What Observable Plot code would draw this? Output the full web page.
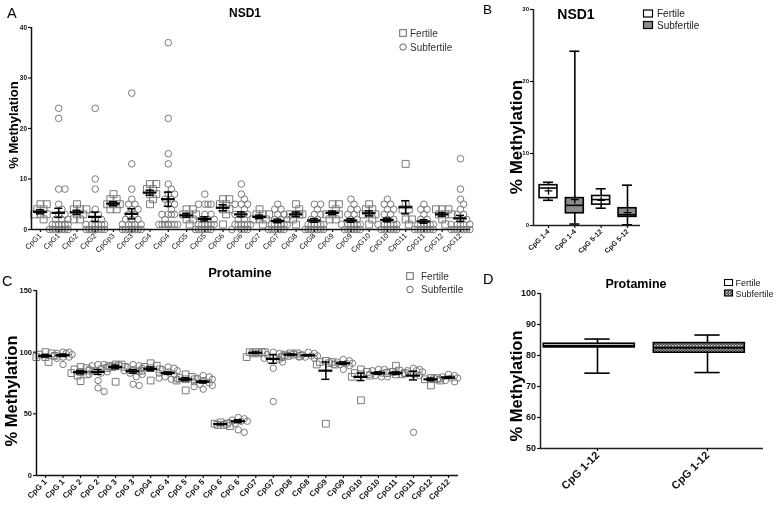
<!DOCTYPE html>
<html><head><meta charset="utf-8">
<script src="https://cdn.jsdelivr.net/npm/d3@7"></script>
<script src="https://cdn.jsdelivr.net/npm/@observablehq/plot@0.6"></script>
<style>
body{margin:0;background:#fff;}
#root{position:relative;width:778px;height:509px;overflow:hidden;background:#fff;}
#root svg{will-change:transform;-webkit-font-smoothing:antialiased;}
</style></head><body><div id="root"></div>
<script>
// ---------------- DATA ----------------
// Panel A: NSD1, individual CpG sites (Fertile / Subfertile alternate)
const aLabels = ["CpG1","CpG1","CpG2","CpG2","CpGp3","CpG3","CpG4","CpG4","CpG5","CpG5","CpG6","CpG6","CpG7","CpG7","CpG8","CpG8","CpG9","CpG9","CpG10","CpG10","CpG11","CpG11","CpG12","CpG12"];
const aGroup = ["Fertile","Subfertile","Fertile","Subfertile","Fertile","Subfertile","Fertile","Subfertile","Fertile","Subfertile","Fertile","Subfertile","Fertile","Subfertile","Fertile","Subfertile","Fertile","Subfertile","Fertile","Subfertile","Fertile","Subfertile","Fertile","Subfertile"];
const aPoints = [
 [5,5,4,4,3,3,3,2],
 [24,22,8,8,5,4,3,3,2,2,2,1,1,1,1,1,1,0,0,0,0,0,0,0,0,0,0],
 [5,4,4,4,3,3,2,2],
 [24,10,8,4,3,3,2,2,1,1,1,1,1,1,0,0,0,0,0,0,0,0,0,0],
 [7,6,6,5,5,5,4,4],
 [27,13,8,6,5,5,4,4,3,3,2,2,2,1,1,1,1,1,0,0,0,0,0,0,0,0,0],
 [9,9,8,8,7,7,6,5],
 [37,22,15,13,9,8,7,7,6,6,5,5,4,3,3,3,3,2,1,1,1,1,1,1,1,1,1],
 [4,4,3,3,3,2,2,1],
 [7,5,5,5,5,3,3,2,2,2,1,1,1,1,1,1,0,0,0,0,0,0],
 [6,6,5,5,4,4,3,1],
 [9,7,6,5,5,5,4,3,3,3,2,2,1,1,1,1,1,1,0,0,0,0],
 [4,3,3,3,2,2,2,1],
 [5,4,4,3,3,2,2,2,1,1,1,1,1,1,0,0,0,0,0,0],
 [5,4,3,3,3,3,2,1],
 [5,5,4,3,3,2,2,1,1,1,1,1,1,0,0,0,0,0,0,0],
 [5,5,4,3,3,3,2,2],
 [6,5,4,4,3,3,2,2,1,1,1,1,1,1,0,0,0,0,0,0],
 [5,4,4,3,3,3,2,1],
 [6,5,5,4,4,3,3,2,2,1,1,1,1,1,1,0,0,0,0,0,0],
 [13,5,4,4,2,2,1],
 [5,4,4,3,2,2,1,1,1,1,1,1,0,0,0,0,0,0,0],
 [4,4,4,3,3,3,2,1],
 [14,8,6,5,4,3,3,2,2,1,1,1,1,1,0,0,0,0,0,0,0]
];
const aMean = [3.5,3.3,3.4,2.5,5.1,3.1,7.3,6.0,2.8,2.1,4.3,3.0,2.5,1.7,3.0,1.8,3.3,1.8,3.2,1.9,4.4,1.6,3.0,2.2];
const aSem  = [0.4,0.9,0.4,0.9,0.4,1.0,0.5,1.4,0.35,0.4,0.6,0.5,0.35,0.35,0.45,0.35,0.35,0.35,0.5,0.35,1.3,0.35,0.35,0.6];
const aTicksY = [0,10,20,30,40];

// Panel B: NSD1 box plots
const bLabels = ["CpG 1-4","CpG 1-4","CpG 5-12","CpG 5-12"];
const bGroup = ["Fertile","Subfertile","Fertile","Subfertile"];
const bMin = [3.5,0.2,2.4,0.1];
const bQ1 = [3.8,1.7,2.9,1.2];
const bMedian = [5.2,2.8,3.6,1.5];
const bQ3 = [5.6,3.8,4.1,2.4];
const bMax = [6.0,24.2,5.1,5.6];
const bMean = [4.8,3.6,3.5,1.8];
const bTicksY = [0,10,20,30];

// Panel C: Protamine, individual CpG sites
const cLabels = ["CpG 1","CpG 1","CpG 2","CpG 2","CpG 3","CpG 3","CpG4","CpG 4","CpG 5","CpG 5","CpG 6","CpG 6","CpG7","CpG7","CpG8","CpG8","CpG9","CpG9","CpG10","CpG10","CpG11","CpG11","CpG12","CpG12"];
const cGroup = aGroup;
const cPoints = [
 [100,99,98,97,96,96,92],
 [100,100,99,99,98,97,96,96,95,90],
 [88,87,86,85,84,83,82,81,76.5],
 [90,90,89,88,87,86,85,84,83,82,77,71,68],
 [90,90,89,89,88,88,87,76],
 [90,89,88,87,86,85,84,83,82,80,74,73],
 [91,89,88,87,86,85,77],
 [88,87,86,85,84,83,82,80,79,78,78],
 [82,80,79,78,78,77,69],
 [81,80,79,78,77,76,75,74,73,72,70],
 [43,42,42,41,41,40],
 [47,46,45,44,44,43,42,37,35],
 [100,100,100,100,99,99,96],
 [100,99,98,97,96,95,94,93,92,87,60],
 [99,99,98,98,97,97,96],
 [100,99,98,97,97,96,96,95],
 [93,92,92,91,90,90,42],
 [94,93,92,91,91,90,90,89,86],
 [86,84,83,82,81,80,61],
 [86,86,85,84,83,82,81,80,80],
 [89,85,84,83,83,82,82],
 [87,86,85,85,84,83,82,81,35],
 [79,79,78,78,77,73],
 [82,81,80,79,79,78,77,76]
];
const cMean = [97,97.5,83.8,84,88,84.5,86.5,83,78,76,41.7,44,99.5,94.5,98,97.5,85,91,80,83,83,81,78,79.5];
const cSem  = [1.0,1.0,1.4,2.0,1.5,1.5,1.5,1.0,1.3,1.0,0.5,1.2,0.6,3.5,0.5,0.5,7,1.0,3,1.0,1.0,3.5,1.0,0.8];
const cTicksY = [0,50,100,150];

// Panel D: Protamine box plots
const dLabels = ["CpG 1-12","CpG 1-12"];
const dGroup = ["Fertile","Subfertile"];
const dMin = [74.3,74.5];
const dQ1 = [82.6,80.9];
const dMedian = [83.1,82.5];
const dQ3 = [83.8,84.0];
const dMax = [85.3,86.6];
const dTicksY = [50,60,70,80,90,100];

const legendLabels = ["Fertile","Subfertile"];
const yTitle = "% Methylation";

// ---------------- RENDER ----------------
const FONT = '"Liberation Sans", Arial, Helvetica, sans-serif';
const root = document.getElementById("root");
const NS = "http://www.w3.org/2000/svg";

function place(svg, left, top){
  svg.style.position = "absolute"; svg.style.left = left + "px"; svg.style.top = top + "px";
  root.appendChild(svg); return svg;
}

// deterministic column-scatter spreading (GraphPad-like)
function swarmOffsets(vals, pxY, pxX, r){
  const order = d3.range(vals.length).sort((a,b)=>d3.descending(vals[a],vals[b]));
  const placed = [], out = new Array(vals.length);
  const step = r*0.95, cands = [0];
  for (let k=1;k<=3;k++) cands.push(k*step, -k*step);
  for (const i of order){
    const y = vals[i]*pxY;
    let best = 0, bestD = -1;
    for (const c of cands){
      let dmin = Infinity;
      for (const p of placed) dmin = Math.min(dmin, Math.hypot(p.x-c, p.y-y));
      if (dmin >= 1.6*r){ best = c; break; }
      if (dmin > bestD){ bestD = dmin; best = c; }
    }
    placed.push({x:best, y});
    out[i] = best/pxX;
  }
  return out;
}

function dotPanel(cfg, labels, group, points, mean, sem, o){
  const pxY = (cfg.height-cfg.mt-cfg.mb)/(cfg.yd[1]-cfg.yd[0]);
  const pxX = (cfg.width-cfg.ml-cfg.mr)/(cfg.xd[1]-cfg.xd[0]);
  const rows = [];
  points.forEach((vals,i)=>{
    const offs = swarmOffsets(vals, pxY, pxX, o.r);
    vals.forEach((v,j)=>rows.push({i, v, xo:i+offs[j], g:group[i]}));
  });
  const stats = labels.map((l,i)=>({i, m:mean[i], lo:mean[i]-sem[i], hi:mean[i]+sem[i]}));
  const idx = d3.range(labels.length);
  return Plot.plot({
    width:cfg.width, height:cfg.height, marginLeft:cfg.ml, marginRight:cfg.mr, marginTop:cfg.mt, marginBottom:cfg.mb,
    style:{fontFamily:FONT, background:"transparent", overflow:"visible", color:"#111"},
    x:{type:"linear", domain:cfg.xd, label:null},
    y:{domain:cfg.yd, label:null},
    marks:[
      Plot.dot(rows.filter(d=>d.g==="Fertile"), {x:"xo", y:"v", symbol:"square", r:o.rs, stroke:"#7a7a7a", strokeWidth:1, fill:"none"}),
      Plot.dot(rows.filter(d=>d.g==="Subfertile"), {x:"xo", y:"v", symbol:"circle", r:o.r, stroke:"#7a7a7a", strokeWidth:1, fill:"none"}),
      Plot.ruleX(stats, {x:"i", y1:"lo", y2:"hi", stroke:"#000", strokeWidth:1.5}),
      Plot.ruleY(stats, {y:"hi", x1:d=>d.i-o.cw, x2:d=>d.i+o.cw, stroke:"#000", strokeWidth:1.5}),
      Plot.ruleY(stats, {y:"lo", x1:d=>d.i-o.cw, x2:d=>d.i+o.cw, stroke:"#000", strokeWidth:1.5}),
      Plot.ruleY(stats, {y:"m", x1:d=>d.i-o.mw, x2:d=>d.i+o.mw, stroke:"#000", strokeWidth:2.2}),
      Plot.ruleY([cfg.yd[0]], {stroke:"#111", strokeWidth:1.5}),
      Plot.ruleX([cfg.xd[0]], {stroke:"#111", strokeWidth:1.5}),
      Plot.axisY({ticks:o.yticks, tickSize:3, tickPadding:1.5, fontSize:o.yfs, fontWeight:"bold", fill:"#111", strokeWidth:1.2}),
      Plot.axisX({ticks:idx, tickFormat:i=>labels[i], tickRotate:-45, tickSize:3, tickPadding:2, fontSize:o.xfs, fontWeight:o.xfw, fill:"#111", strokeWidth:1.2})
    ]
  });
}

function boxPanel(cfg, labels, group, mn, q1, med, q3, mx, mean, o){
  const rows = labels.map((l,i)=>({i, g:group[i], mn:mn[i], q1:q1[i], med:med[i], q3:q3[i], mx:mx[i], mean: mean ? mean[i] : null}));
  const idx = d3.range(labels.length);
  const marks = [
    Plot.ruleX(rows, {x:"i", y1:"mn", y2:"mx", stroke:"#000", strokeWidth:1.6}),
    Plot.ruleY(rows, {y:"mn", x1:d=>d.i-o.cw, x2:d=>d.i+o.cw, stroke:"#000", strokeWidth:1.6}),
    Plot.ruleY(rows, {y:"mx", x1:d=>d.i-o.cw, x2:d=>d.i+o.cw, stroke:"#000", strokeWidth:1.6}),
    Plot.rect(rows.filter(d=>d.g==="Fertile"), {x1:d=>d.i-o.bl, x2:d=>d.i+o.br, y1:"q1", y2:"q3", fill:o.fillF, stroke:"#000", strokeWidth:1.6}),
    Plot.rect(rows.filter(d=>d.g==="Subfertile"), {x1:d=>d.i-o.bl, x2:d=>d.i+o.br, y1:"q1", y2:"q3", fill:o.fillS, stroke:"#000", strokeWidth:1.6}),
    Plot.ruleY(rows, {y:"med", x1:d=>d.i-o.bl, x2:d=>d.i+o.br, stroke:"#000", strokeWidth:o.medW})
  ];
  if (mean) marks.push(Plot.dot(rows, {x:"i", y:"mean", symbol:"plus", r:2.6, stroke:"#000", strokeWidth:1.3}));
  marks.push(
    Plot.ruleY([cfg.yd[0]], {stroke:"#222", strokeWidth:1.5}),
    Plot.ruleX([cfg.xd[0]], {stroke:"#222", strokeWidth:1.5}),
    Plot.axisY({ticks:o.yticks, tickSize:3, tickPadding:1.5, fontSize:o.yfs, fontWeight:"bold", fill:"#111", strokeWidth:1.2}),
    Plot.axisX({ticks:idx, tickFormat:i=>labels[i], tickRotate:-45, tickSize:3, tickPadding:2, fontSize:o.xfs, fontWeight:"bold", fill:"#111", strokeWidth:1.2})
  );
  return Plot.plot({
    width:cfg.width, height:cfg.height, marginLeft:cfg.ml, marginRight:cfg.mr, marginTop:cfg.mt, marginBottom:cfg.mb,
    style:{fontFamily:FONT, background:"transparent", overflow:"visible", color:"#111"},
    x:{type:"linear", domain:cfg.xd, label:null},
    y:{domain:cfg.yd, label:null},
    marks
  });
}

const patternDef = id => `<pattern id="${id}" width="3" height="3" patternUnits="userSpaceOnUse"><rect width="3" height="3" fill="#3a3a3a"/><rect width="1.5" height="1.5" fill="#e6e6e6"/><rect x="1.5" y="1.5" width="1.5" height="1.5" fill="#9a9a9a"/></pattern>`;

// A
const cfgA = {width:480, height:258, ml:31, mr:10, mt:27, mb:29, xd:[-0.49,23.55], yd:[0,40]};
place(dotPanel(cfgA, aLabels, aGroup, aPoints, aMean, aSem,
  {r:3.3, rs:3.9, mw:0.37, cw:0.22, yticks:aTicksY, yfs:6.5, xfs:7.5, xfw:"normal"}), 0, 0);

// C
const cfgC = {width:480, height:254, ml:36, mr:22, mt:35, mb:34, xd:[-0.514,23.57], yd:[0,150]};
place(dotPanel(cfgC, cLabels, cGroup, cPoints, cMean, cSem,
  {r:3.2, rs:3.8, mw:0.4, cw:0.23, yticks:cTicksY, yfs:7.5, xfs:8, xfw:"bold"}), 0, 255);

// B
const cfgB = {width:298, height:250, ml:53, mr:138, mt:9, mb:25, xd:[-0.57,3.494], yd:[0,30]};
place(boxPanel(cfgB, bLabels, bGroup, bMin, bQ1, bMedian, bQ3, bMax, bMean,
  {cw:0.19, bl:0.34, br:0.34, fillF:"#ffffff", fillS:"#8c8c8c", medW:1.6, yticks:bTicksY, yfs:6, xfs:7}), 480, 0);

// D
const cfgD = {width:298, height:254, ml:60, mr:15, mt:38, mb:61, xd:[-0.518,1.509], yd:[50,100]};
const svgD = place(boxPanel(cfgD, dLabels, dGroup, dMin, dQ1, dMedian, dQ3, dMax, null,
  {cw:0.115, bl:0.488, br:0.339, fillF:"#ffffff", fillS:"url(#chkD)", medW:2.2, yticks:dTicksY, yfs:9, xfs:11}), 480, 255);
const defsD = document.createElementNS(NS, "defs");
defsD.innerHTML = patternDef("chkD");
svgD.insertBefore(defsD, svgD.firstChild);

// Overlay: panel letters, titles, axis titles, legends
const ov = d3.select(root).append("svg").attr("width",778).attr("height",509)
  .style("position","absolute").style("left","0px").style("top","0px").style("pointer-events","none")
  .attr("font-family", FONT);
ov.append("defs").html(patternDef("chkL"));
function txt(x,y,s,size,opts={}){
  const t = ov.append("text").attr("x",x).attr("y",y).attr("font-size",size).text(s).attr("fill", opts.fill || "#000");
  if (opts.bold) t.attr("font-weight","bold");
  if (opts.anchor) t.attr("text-anchor", opts.anchor);
  return t;
}
function ytitle(x,y,size){
  ov.append("text").attr("transform",`translate(${x},${y}) rotate(-90)`).attr("text-anchor","middle")
    .attr("font-size",size).attr("font-weight","bold").text(yTitle);
}
// Panel A
txt(7,18,"A",14.5);
txt(245,17,"NSD1",12,{bold:true,anchor:"middle"});
ytitle(17.5,125,13);
ov.append("rect").attr("x",399.7).attr("y",29.7).attr("width",6.6).attr("height",6.6).attr("fill","none").attr("stroke","#666");
txt(410,36.5,legendLabels[0],10,{fill:"#333"});
ov.append("circle").attr("cx",403).attr("cy",47).attr("r",3.2).attr("fill","none").attr("stroke","#666");
txt(410,50.5,legendLabels[1],10,{fill:"#333"});
// Panel B
txt(483,14,"B",13.5);
txt(576,18.5,"NSD1",14,{bold:true,anchor:"middle"});
ytitle(522,137,17);
ov.append("rect").attr("x",643.5).attr("y",10).attr("width",9).attr("height",7).attr("fill","#fff").attr("stroke","#000").attr("stroke-width",1.2);
txt(657,17,legendLabels[0],10,{fill:"#222"});
ov.append("rect").attr("x",643.5).attr("y",21.5).attr("width",9).attr("height",7).attr("fill","#8c8c8c").attr("stroke","#000").attr("stroke-width",1.2);
txt(657,28.5,legendLabels[1],10,{fill:"#222"});
// Panel C
txt(2,286,"C",14.5);
txt(240,277,"Protamine",13,{bold:true,anchor:"middle"});
ytitle(17,391,16.5);
ov.append("rect").attr("x",406.7).attr("y",272.7).attr("width",6.6).attr("height",6.6).attr("fill","none").attr("stroke","#666");
txt(421,280,legendLabels[0],10,{fill:"#333"});
ov.append("circle").attr("cx",410).attr("cy",289.5).attr("r",3.2).attr("fill","none").attr("stroke","#666");
txt(421,293,legendLabels[1],10,{fill:"#333"});
// Panel D
txt(483,284,"D",14.5);
txt(636,287.5,"Protamine",12.5,{bold:true,anchor:"middle"});
ytitle(522,386,16.5);
ov.append("rect").attr("x",724.5).attr("y",279.5).attr("width",8).attr("height",6).attr("fill","#fff").attr("stroke","#000").attr("stroke-width",1.1);
txt(735.5,286,legendLabels[0],9,{fill:"#222"});
ov.append("rect").attr("x",724.5).attr("y",290).attr("width",8).attr("height",6).attr("fill","url(#chkL)").attr("stroke","#000").attr("stroke-width",1.1);
txt(735.5,296.5,legendLabels[1],9,{fill:"#222"});
</script></body></html>
